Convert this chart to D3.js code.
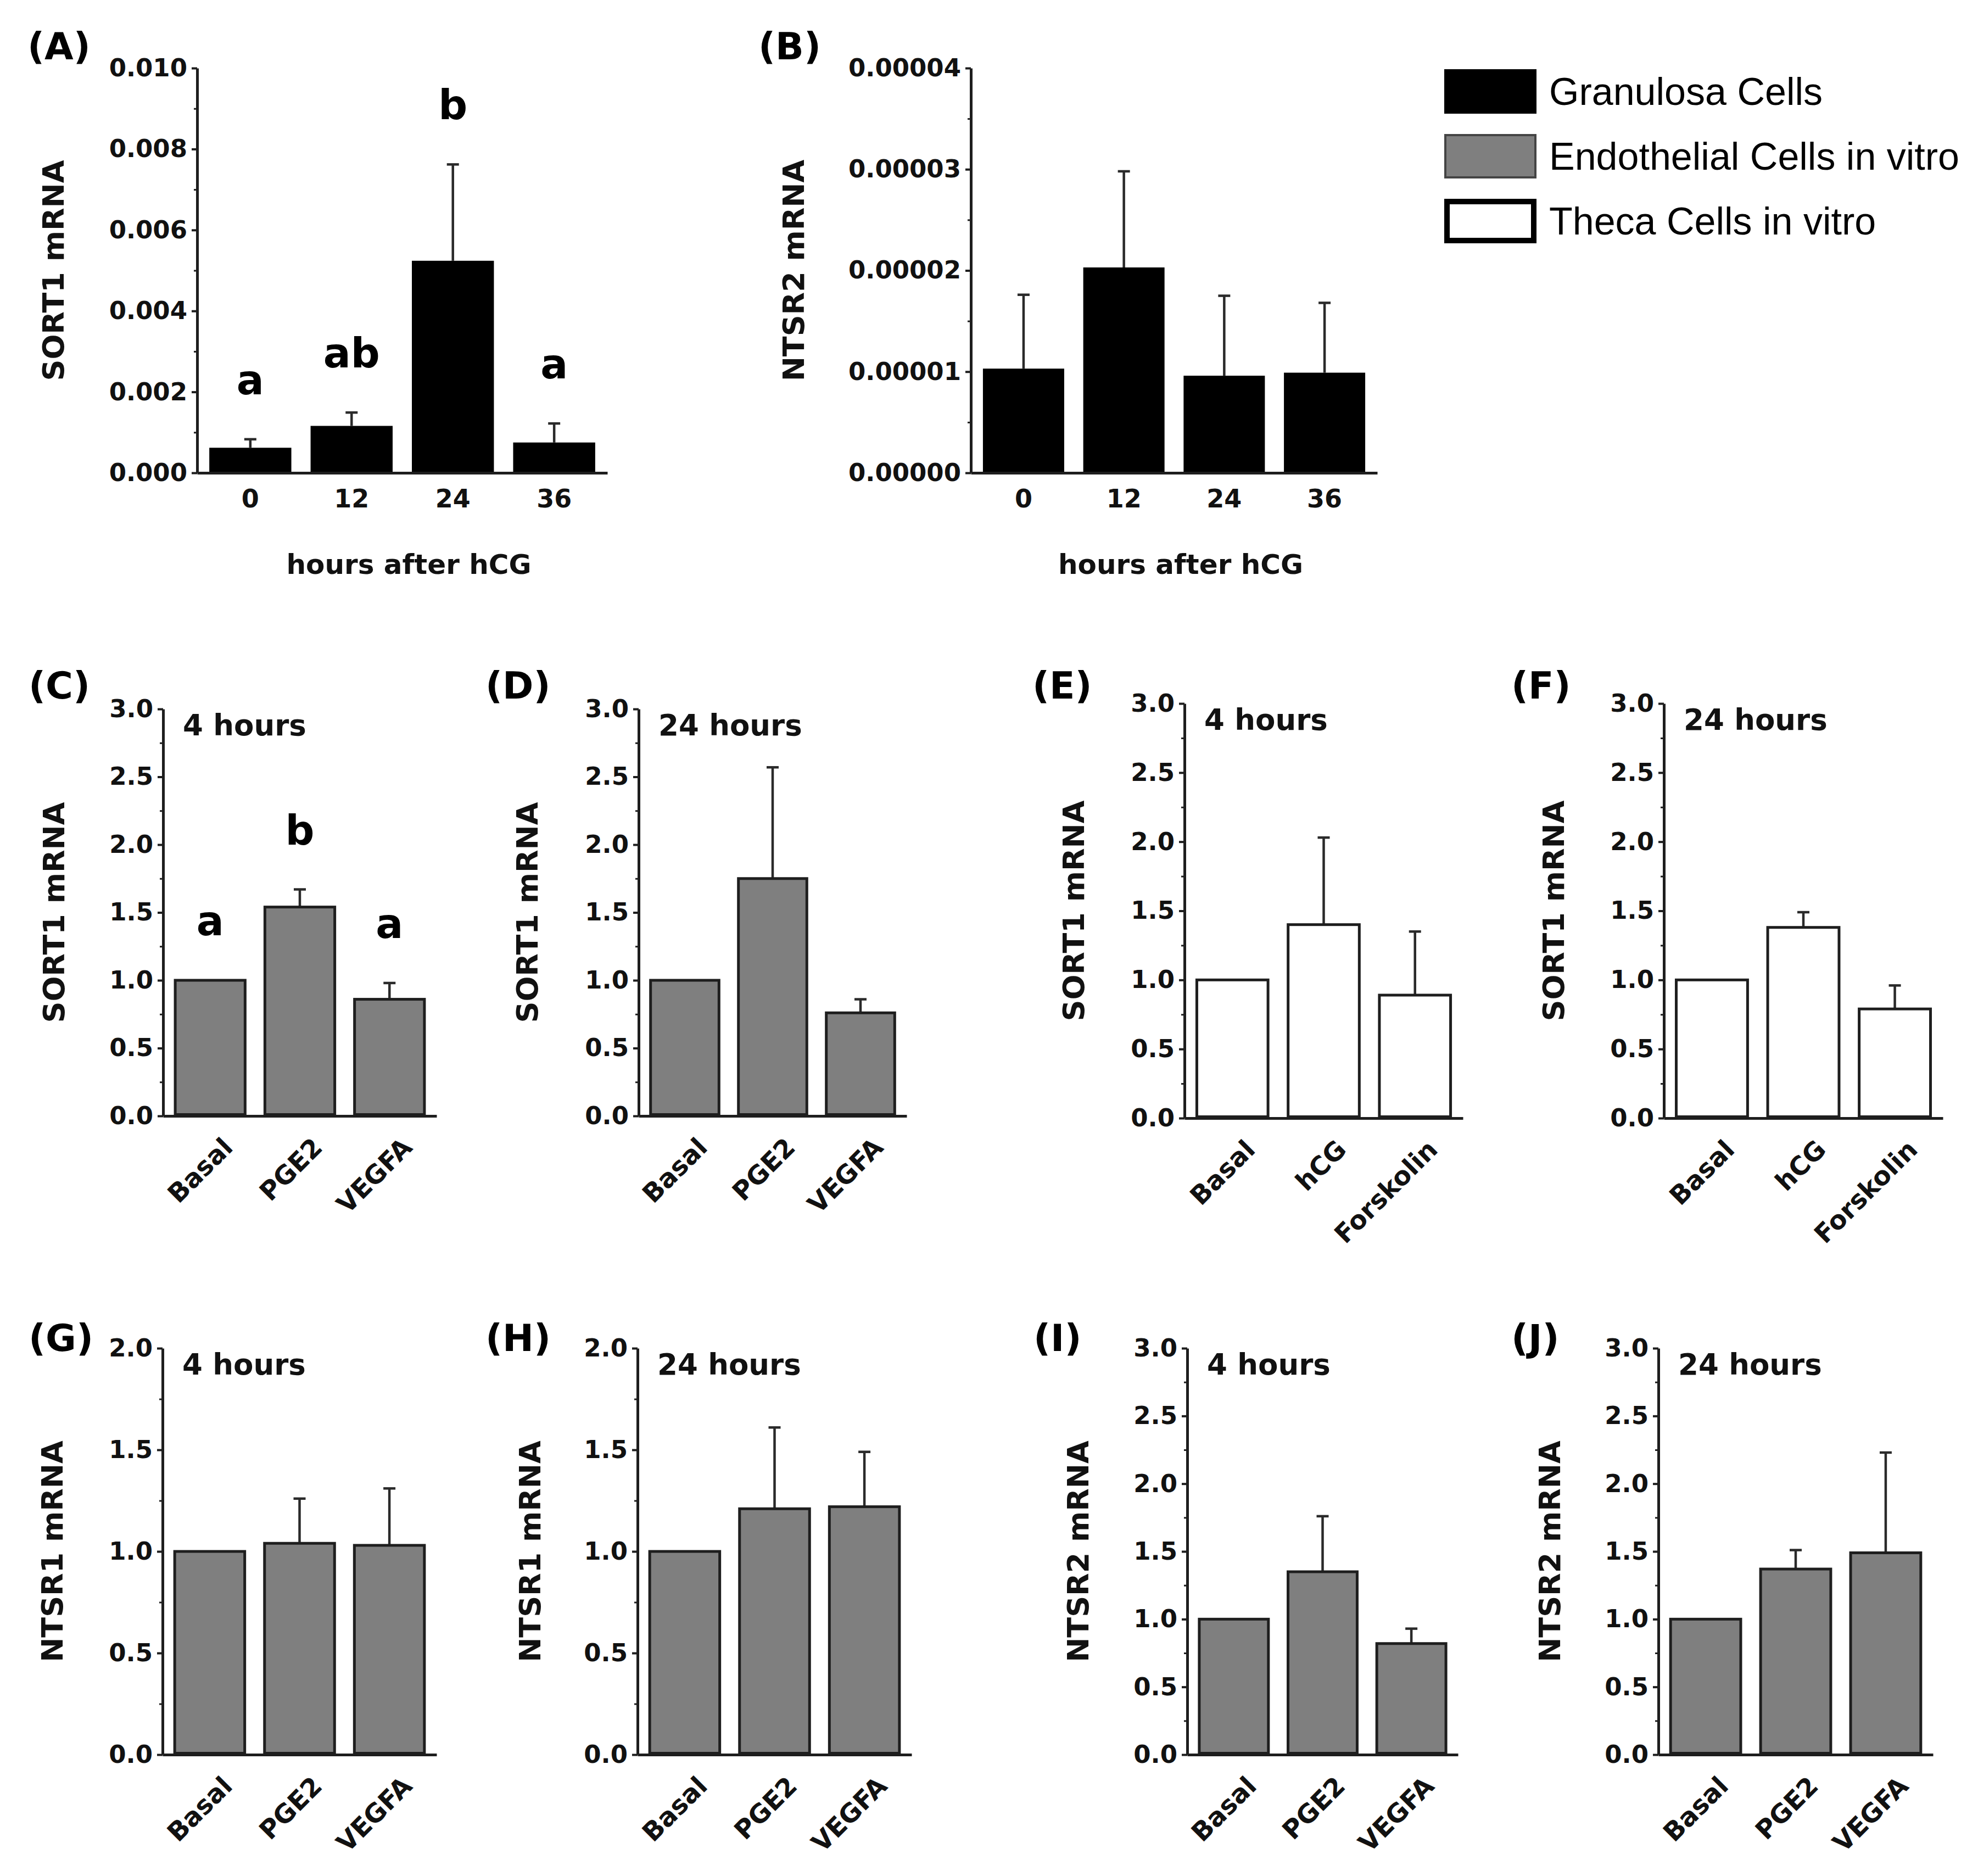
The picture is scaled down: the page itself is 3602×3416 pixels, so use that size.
<!DOCTYPE html>
<html><head><meta charset="utf-8">
<script src="https://cdn.jsdelivr.net/npm/d3@7"></script>
<style>body{margin:0;background:#fff}svg{display:block}</style>
</head><body>
<svg id="fig" width="3602" height="3416"></svg>
<script>
// ---------------- data ----------------
const hoursCategories = ["0", "12", "24", "36"];
const endoCategories = ["Basal", "PGE2", "VEGFA"];
const thecaCategories = ["Basal", "hCG", "Forskolin"];

const sort1Granulosa = [0.00062, 0.00116, 0.00524, 0.00075];
const sort1GranulosaErr = [0.00021, 0.00033, 0.00238, 0.00047];
const sort1GranulosaLetters = ["a", "ab", "b", "a"];

const ntsr2Granulosa = [1.03e-5, 2.03e-5, 0.96e-5, 0.99e-5];
const ntsr2GranulosaErr = [0.73e-5, 0.95e-5, 0.79e-5, 0.69e-5];

const sort1Endo4h = [1.0, 1.54, 0.86];
const sort1Endo4hErr = [0, 0.13, 0.12];
const sort1Endo4hLetters = ["a", "b", "a"];
const sort1Endo24h = [1.0, 1.75, 0.76];
const sort1Endo24hErr = [0, 0.82, 0.10];
const sort1Theca4h = [1.0, 1.40, 0.89];
const sort1Theca4hErr = [0, 0.63, 0.46];
const sort1Theca24h = [1.0, 1.38, 0.79];
const sort1Theca24hErr = [0, 0.11, 0.17];
const ntsr1Endo4h = [1.0, 1.04, 1.03];
const ntsr1Endo4hErr = [0, 0.22, 0.28];
const ntsr1Endo24h = [1.0, 1.21, 1.22];
const ntsr1Endo24hErr = [0, 0.40, 0.27];
const ntsr2Endo4h = [1.0, 1.35, 0.82];
const ntsr2Endo4hErr = [0, 0.41, 0.11];
const ntsr2Endo24h = [1.0, 1.37, 1.49];
const ntsr2Endo24hErr = [0, 0.14, 0.74];

const yTicksSort1Gran = [0, 0.002, 0.004, 0.006, 0.008, 0.010];
const yTicksNtsr2Gran = [0, 0.00001, 0.00002, 0.00003, 0.00004];
const yTicks3 = [0, 0.5, 1.0, 1.5, 2.0, 2.5, 3.0];
const yTicks2 = [0, 0.5, 1.0, 1.5, 2.0];

const legendLabels = ["Granulosa Cells", "Endothelial Cells in vitro", "Theca Cells in vitro"];
const cellTypes = ["granulosa", "endothelial", "theca"];

// ---------------- styles ----------------
const FONT = "'DejaVu Sans', Verdana, sans-serif";
const INK = "#1e1e1e";
const fills = {granulosa: "#000000", endothelial: "#7f7f7f", theca: "#ffffff"};
const strokes = {granulosa: "#000000", endothelial: "#1e1e1e", theca: "#1e1e1e"};

const panels = [
  {tag: "(A)", lx: 50, ly: 108, cats: hoursCategories, vals: sort1Granulosa, errs: sort1GranulosaErr, letters: sort1GranulosaLetters,
   max: 0.010, ticks: yTicksSort1Gran, minor: 0.001, fmt: d => d.toFixed(3), type: "granulosa", title: "SORT1 mRNA",
   x0: 359, x1: 1106, yTop: 124, yBot: 861, titleDx: 262, xlabel: "hours after hCG", rotate: false, time: null},
  {tag: "(B)", lx: 1381, ly: 108, cats: hoursCategories, vals: ntsr2Granulosa, errs: ntsr2GranulosaErr, letters: null,
   max: 0.00004, ticks: yTicksNtsr2Gran, minor: 0.000005, fmt: d => d.toFixed(5), type: "granulosa", title: "NTSR2 mRNA",
   x0: 1768, x1: 2508, yTop: 124, yBot: 861, titleDx: 323, xlabel: "hours after hCG", rotate: false, time: null},
  {tag: "(C)", lx: 52, ly: 1272, cats: endoCategories, vals: sort1Endo4h, errs: sort1Endo4hErr, letters: sort1Endo4hLetters,
   max: 3, ticks: yTicks3, minor: 0.25, fmt: d => d.toFixed(1), type: "endothelial", title: "SORT1 mRNA",
   x0: 297, x1: 795, yTop: 1291, yBot: 2032, titleDx: 199, rotate: true, time: "4 hours"},
  {tag: "(D)", lx: 884, ly: 1272, cats: endoCategories, vals: sort1Endo24h, errs: sort1Endo24hErr, letters: null,
   max: 3, ticks: yTicks3, minor: 0.25, fmt: d => d.toFixed(1), type: "endothelial", title: "SORT1 mRNA",
   x0: 1163, x1: 1651, yTop: 1291, yBot: 2032, titleDx: 203, rotate: true, time: "24 hours"},
  {tag: "(E)", lx: 1880, ly: 1272, cats: thecaCategories, vals: sort1Theca4h, errs: sort1Theca4hErr, letters: null,
   max: 3, ticks: yTicks3, minor: 0.25, fmt: d => d.toFixed(1), type: "theca", title: "SORT1 mRNA",
   x0: 2157, x1: 2664, yTop: 1281, yBot: 2036, titleDx: 202, rotate: true, time: "4 hours"},
  {tag: "(F)", lx: 2752, ly: 1272, cats: thecaCategories, vals: sort1Theca24h, errs: sort1Theca24hErr, letters: null,
   max: 3, ticks: yTicks3, minor: 0.25, fmt: d => d.toFixed(1), type: "theca", title: "SORT1 mRNA",
   x0: 3030, x1: 3538, yTop: 1281, yBot: 2036, titleDx: 201, rotate: true, time: "24 hours"},
  {tag: "(G)", lx: 52, ly: 2460, cats: endoCategories, vals: ntsr1Endo4h, errs: ntsr1Endo4hErr, letters: null,
   max: 2, ticks: yTicks2, minor: 0.25, fmt: d => d.toFixed(1), type: "endothelial", title: "NTSR1 mRNA",
   x0: 296, x1: 795, yTop: 2455, yBot: 3195, titleDx: 201, rotate: true, time: "4 hours"},
  {tag: "(H)", lx: 884, ly: 2460, cats: endoCategories, vals: ntsr1Endo24h, errs: ntsr1Endo24hErr, letters: null,
   max: 2, ticks: yTicks2, minor: 0.25, fmt: d => d.toFixed(1), type: "endothelial", title: "NTSR1 mRNA",
   x0: 1161, x1: 1660, yTop: 2455, yBot: 3195, titleDx: 196, rotate: true, time: "24 hours"},
  {tag: "(I)", lx: 1882, ly: 2460, cats: endoCategories, vals: ntsr2Endo4h, errs: ntsr2Endo4hErr, letters: null,
   max: 3, ticks: yTicks3, minor: 0.25, fmt: d => d.toFixed(1), type: "endothelial", title: "NTSR2 mRNA",
   x0: 2162, x1: 2655, yTop: 2455, yBot: 3195, titleDx: 199, rotate: true, time: "4 hours"},
  {tag: "(J)", lx: 2752, ly: 2460, cats: endoCategories, vals: ntsr2Endo24h, errs: ntsr2Endo24hErr, letters: null,
   max: 3, ticks: yTicks3, minor: 0.25, fmt: d => d.toFixed(1), type: "endothelial", title: "NTSR2 mRNA",
   x0: 3020, x1: 3520, yTop: 2455, yBot: 3195, titleDx: 198, rotate: true, time: "24 hours"}
];

const svg = d3.select("#fig");
svg.append("rect").attr("width", 3602).attr("height", 3416).attr("fill", "#fff");

panels.forEach(p => {
  const g = svg.append("g");
  const x = d3.scaleBand().domain(p.cats).range([p.x0, p.x1]).paddingInner(0.19).paddingOuter(0.12);
  const y = d3.scaleLinear().domain([0, p.max]).range([p.yBot, p.yTop]);
  const rows = p.cats.map((c, i) => ({c, v: p.vals[i], e: p.errs[i], l: p.letters ? p.letters[i] : null}));

  // panel tag
  g.append("text").attr("x", p.lx).attr("y", p.ly).text(p.tag)
    .attr("font-family", FONT).attr("font-weight", "bold").attr("font-size", 68).attr("fill", "#000");

  // error bars
  const eb = g.append("g").attr("stroke", "#2a2a2a").attr("stroke-width", 4.5);
  rows.filter(r => r.e > 0).forEach(r => {
    const cx = x(r.c) + x.bandwidth() / 2;
    eb.append("line").attr("x1", cx).attr("x2", cx).attr("y1", y(r.v)).attr("y2", y(r.v + r.e));
    eb.append("line").attr("x1", cx - 11).attr("x2", cx + 11).attr("y1", y(r.v + r.e)).attr("y2", y(r.v + r.e));
  });

  // bars
  const sw = p.type === "granulosa" ? 0 : 5;
  g.append("g").selectAll("rect").data(rows).join("rect")
    .attr("x", d => x(d.c) + sw / 2).attr("width", x.bandwidth() - sw)
    .attr("y", d => y(d.v)).attr("height", d => y(0) - y(d.v) - sw / 2)
    .attr("fill", fills[p.type]).attr("stroke", strokes[p.type]).attr("stroke-width", sw);

  // significance letters
  if (p.letters) {
    g.append("g").selectAll("text").data(rows).join("text")
      .attr("x", d => x(d.c) + x.bandwidth() / 2).attr("y", d => y(d.v + d.e) - 82)
      .attr("text-anchor", "middle").attr("font-family", FONT).attr("font-weight", "bold")
      .attr("font-size", 74).attr("fill", "#000").text(d => d.l);
  }

  // minor y ticks
  const minorVals = d3.range(0, p.max + p.minor / 2, p.minor).filter(v => !p.ticks.some(t => Math.abs(t - v) < p.minor / 10));
  const ym = g.append("g").attr("transform", `translate(${p.x0},0)`)
    .call(d3.axisLeft(y).tickValues(minorVals).tickSize(6).tickSizeOuter(0).tickFormat(""));
  ym.select(".domain").remove();
  ym.selectAll(".tick line").attr("stroke", INK).attr("stroke-width", 3);

  // y axis
  const ya = g.append("g").attr("transform", `translate(${p.x0},0)`)
    .call(d3.axisLeft(y).tickValues(p.ticks).tickSize(10).tickSizeOuter(0).tickPadding(8).tickFormat(p.fmt));
  ya.select(".domain").attr("stroke", INK).attr("stroke-width", 5);
  ya.selectAll(".tick line").attr("stroke", INK).attr("stroke-width", 4);
  ya.selectAll(".tick text").attr("font-family", FONT).attr("font-weight", "bold")
    .attr("font-size", 45).attr("fill", "#111");

  // x axis
  const xa = g.append("g").attr("transform", `translate(0,${p.yBot})`)
    .call(d3.axisBottom(x).tickSize(0).tickSizeOuter(0).tickPadding(30));
  xa.select(".domain").attr("stroke", INK).attr("stroke-width", 5);
  xa.selectAll(".tick text").attr("font-family", FONT).attr("font-weight", "bold")
    .attr("font-size", p.rotate ? 47 : 46).attr("fill", "#111");
  if (p.rotate) {
    xa.selectAll(".tick text").attr("x", 0).attr("y", 0).attr("dy", null)
      .attr("text-anchor", "end").attr("transform", "translate(44,60) rotate(-45)");
  }

  // y title
  const cy = (p.yTop + p.yBot) / 2;
  g.append("text").attr("transform", `translate(${p.x0 - p.titleDx},${cy}) rotate(-90)`)
    .attr("text-anchor", "middle").attr("dy", "0.36em").attr("font-family", FONT).attr("font-weight", "bold")
    .attr("font-size", 54).attr("fill", "#111").text(p.title);

  // x title
  if (p.xlabel) {
    g.append("text").attr("x", (p.x0 + p.x1) / 2 + 12).attr("y", 1045).attr("text-anchor", "middle")
      .attr("font-family", FONT).attr("font-weight", "bold").attr("font-size", 50).attr("fill", "#111").text(p.xlabel);
  }

  // time label
  if (p.time) {
    g.append("text").attr("x", p.x0 + 36).attr("y", p.yTop + 48)
      .attr("font-family", FONT).attr("font-weight", "bold").attr("font-size", 53).attr("fill", "#111").text(p.time);
  }
});

// legend
const lg = svg.append("g");
cellTypes.forEach((t, i) => {
  const yy = 126 + i * 118;
  const sw = t === "granulosa" ? 0 : (t === "theca" ? 10 : 4);
  lg.append("rect").attr("x", 2630 + sw / 2).attr("y", yy + sw / 2).attr("width", 168 - sw).attr("height", 81 - sw)
    .attr("fill", fills[t]).attr("stroke", t === "endothelial" ? "#444" : "#000").attr("stroke-width", sw);
  lg.append("text").attr("x", 2821).attr("y", yy + 40).attr("dy", "0.36em")
    .attr("font-family", "'Liberation Sans', Arial, sans-serif").attr("font-size", 70).attr("fill", "#000")
    .text(legendLabels[i]);
});
</script>
</body></html>
